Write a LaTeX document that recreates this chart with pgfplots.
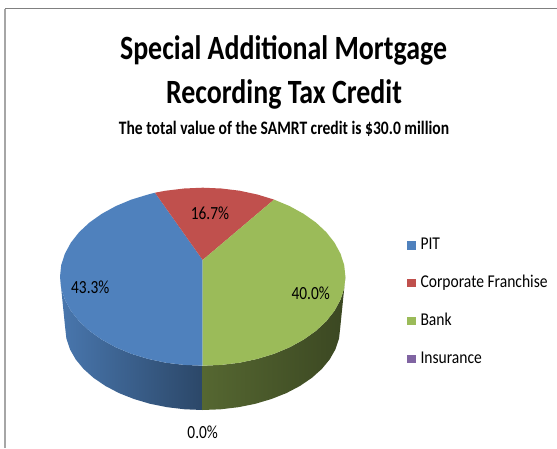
\documentclass[border=0pt]{standalone}
\usepackage{fontspec}
\setmainfont{Carlito}
\newfontfamily\titlefont[FakeStretch=0.82]{Carlito}
\newfontfamily\labelfont[FakeStretch=0.83]{Carlito}
\newfontfamily\legendfont[FakeStretch=0.865]{Carlito}
\usepackage{pgfplots}
\pgfplotsset{compat=1.18}

\definecolor{pitblue}{HTML}{4F81BD}
\definecolor{corpred}{HTML}{C0504D}
\definecolor{bankgreen}{HTML}{9BBB59}
\definecolor{inspurple}{HTML}{8064A2}

\begin{document}
\begin{tikzpicture}

% shares: PIT 43.3, Corporate Franchise 16.7, Bank 40.0, Insurance 0.0
% axis units are reference pixels, y measured up from the bottom
\begin{axis}[%
    width=557pt,
    height=448pt,
    scale only axis,
    xmin=0,xmax=557,
    ymin=0,ymax=448,
    hide axis,
    legend style={
        at={(axis cs:407,209.6)},anchor=north west,
        draw=none,fill=none,
        inner sep=0pt,
        row sep=23.8pt,
        font=\legendfont\fontsize{18}{20}\selectfont,
        nodes={text height=11pt,text depth=3pt,inner ysep=0pt,inner xsep=4.8pt},
    },
    legend cell align=left,
    legend image code/.code={
        \path[#1] (0pt,-4pt) rectangle (8.5pt,4.5pt);
    },
    ]

% keeps the whole reference area in the bounding box
\addplot [forget plot, draw=none] coordinates { (0,0) (557,448) };

% frame
\addplot [forget plot, color=black!35, line width=1.8pt]
    coordinates { (5.3,0) (5.3,439.3) };
\addplot [forget plot, color=black!50, line width=1.4pt]
    coordinates { (5.3,439.3) (557,439.3) };

% wall, blue part
\addplot [forget plot, draw=none, left color=pitblue!92!black, right color=pitblue!55!black]
    coordinates {
        (60,171.3) (61.2,159.7) (64.9,148.3) (70.9,137.2) (79.1,126.8) (89.5,117.1)
        (101.8,108.4) (115.8,100.7) (131.35,94.2) (148.1,89.1) (165.8,85.3) (184.1,83.1) (202.7,82.3)
        (202.7,38) (184.8,38.7) (167.1,40.8) (150.1,44.2) (133.95,49) (119,54.9) (105.5,62)
        (93.6,70.1) (83.6,79) (75.7,88.6) (69.9,98.8) (66.4,109.3) (65.2,120)
        (60,171.3)
    };

% wall, green part
\addplot [forget plot, draw=none, left color=bankgreen!55!black, middle color=bankgreen!42!black, right color=bankgreen!38!black]
    coordinates {
        (202.7,82.3) (221.3,83.1) (239.6,85.3) (257.3,89.1) (274.05,94.2) (289.6,100.7)
        (303.6,108.4) (315.9,117.1) (326.3,126.8) (334.5,137.2) (340.5,148.3) (344.2,159.7) (345.4,171.3)
        (340.2,120) (339,109.3) (335.5,98.8) (329.7,88.6) (321.8,79) (311.8,70.1) (299.9,62)
        (286.4,54.9) (271.45,49) (255.3,44.2) (238.3,40.8) (220.6,38.7) (202.7,38)
        (202.7,82.3)
    };

% PIT
\addplot [draw=none, fill=pitblue]
    coordinates {
        (202.7,188) (155,255.3) (148.1,253.5) (131.35,248.4) (115.8,241.9) (101.8,234.2)
        (89.5,225.5) (79.1,215.8) (70.9,205.4) (64.9,194.3) (61.2,182.9) (60,171.3)
        (61.2,159.7) (64.9,148.3) (70.9,137.2) (79.1,126.8) (89.5,117.1) (101.8,108.4)
        (115.8,100.7) (131.35,94.2) (148.1,89.1) (165.8,85.3) (184.1,83.1) (202.7,82.3)
        (202.7,188)
    };
\addlegendentry{PIT}

% Corporate Franchise
\addplot [draw=none, fill=corpred]
    coordinates {
        (202.7,188) (274.05,248.4) (257.3,253.5) (239.6,257.3) (221.3,259.5) (202.7,260.3)
        (184.1,259.5) (165.8,257.3) (155,255.3) (202.7,188)
    };
\addlegendentry{Corporate Franchise}

% Bank
\addplot [draw=none, fill=bankgreen]
    coordinates {
        (202.7,188) (274.05,248.4) (289.6,241.9) (303.6,234.2) (315.9,225.5) (326.3,215.8)
        (334.5,205.4) (340.5,194.3) (344.2,182.9) (345.4,171.3) (344.2,159.7) (340.5,148.3)
        (334.5,137.2) (326.3,126.8) (315.9,117.1) (303.6,108.4) (289.6,100.7) (274.05,94.2)
        (257.3,89.1) (239.6,85.3) (221.3,83.1) (202.7,82.3) (202.7,188)
    };
\addlegendentry{Bank}

% Insurance has no area
\addplot [draw=none, fill=inspurple] coordinates { (202.7,38) (202.7,38) };
\addlegendentry{Insurance}

% titles
\node [anchor=base, font=\titlefont\fontsize{34}{36}\selectfont\bfseries] at (axis cs:283.5,388) {Special Additional Mortgage};
\node [anchor=base, font=\titlefont\fontsize{34}{36}\selectfont\bfseries] at (axis cs:284,344) {Recording Tax Credit};
\node [anchor=base, font=\titlefont\fontsize{19}{21}\selectfont\bfseries] at (axis cs:284,313) {The total value of the SAMRT credit is \$30.0 million};

% data labels
\node [font=\labelfont\fontsize{18.5}{20}\selectfont] at (axis cs:90.3,161) {43.3\%};
\node [font=\labelfont\fontsize{18.5}{20}\selectfont] at (axis cs:210,235) {16.7\%};
\node [font=\labelfont\fontsize{18.5}{20}\selectfont] at (axis cs:310.7,155) {40.0\%};
\node [font=\labelfont\fontsize{18.5}{20}\selectfont] at (axis cs:202.7,16) {0.0\%};

\end{axis}

\end{tikzpicture}
\end{document}
